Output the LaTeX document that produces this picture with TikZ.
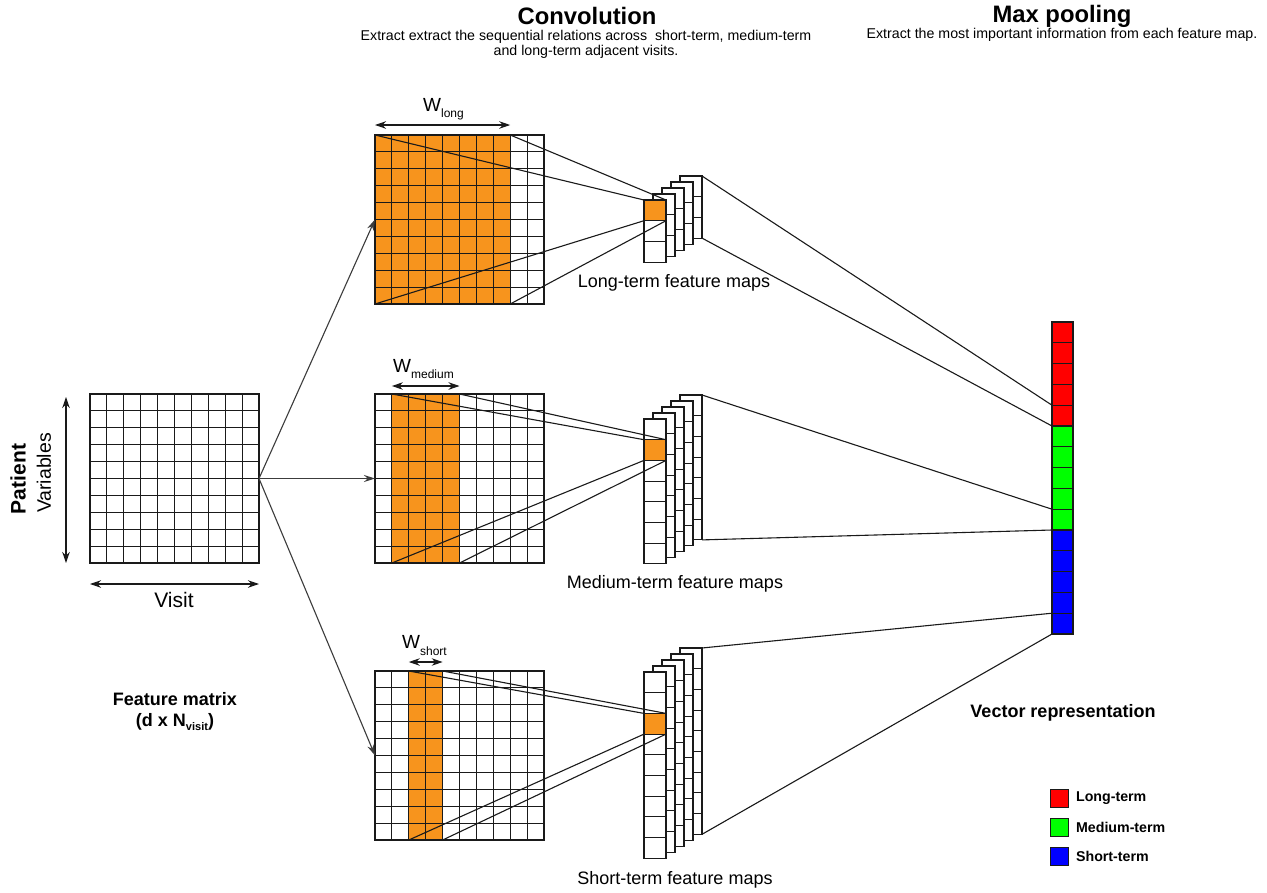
\documentclass[tikz,border=0pt]{standalone}
\usepackage{fontspec}
\setmainfont{Liberation Sans}
\usetikzlibrary{arrows.meta,calc}
\definecolor{conv}{HTML}{F7941D}
\definecolor{ln}{HTML}{1A1A1A}
\definecolor{vred}{HTML}{FF0000}
\definecolor{vgreen}{HTML}{00FF00}
\definecolor{vblue}{HTML}{0000FF}
\tikzset{
  gridl/.style={draw=ln, line width=1.1pt},
  mat/.style={draw=ln, line width=1.1pt, minimum width=169pt, minimum height=169pt, inner sep=0pt, outer sep=0pt, anchor=north west},
  win/.style={fill=conv, draw=none, inner sep=0pt, outer sep=0pt, minimum height=169pt, anchor=north west},
  fmap/.style={draw=ln, fill=white, line width=1.1pt, minimum width=22pt, inner sep=0pt, outer sep=0pt},
  vcell/.style={draw=ln, line width=1.1pt, minimum width=21pt, minimum height=20.8pt, inner sep=0pt, outer sep=0pt, anchor=north west},
  conn/.style={draw=ln, line width=1.1pt},
  arr/.style={draw=ln!85, line width=1.1pt, -{Stealth[length=11pt,width=7pt]}},
  dimarr/.style={draw=ln, line width=1.1pt, {Stealth[length=11pt,width=7.5pt]}-{Stealth[length=11pt,width=7.5pt]}},
  lbl/.style={font=\fontsize{18}{21}\selectfont, inner sep=0pt},
  blbl/.style={font=\bfseries\fontsize{18}{21}\selectfont, inner sep=0pt},
  ttl/.style={font=\bfseries\fontsize{23.8}{26}\selectfont, inner sep=0pt},
  sub/.style={font=\fontsize{14.2}{15}\selectfont, inner sep=0pt, align=center},
  leg/.style={draw=ln, line width=0.9pt, minimum width=18pt, minimum height=18pt, inner sep=0pt, anchor=north west},
  legt/.style={font=\bfseries\fontsize{14.2}{16}\selectfont, inner sep=0pt, anchor=west},
}
\newcommand\matgrid[2]{%
  \foreach \i in {1,...,9}{
    \draw[gridl] ({#1+\i*16.9},#2) -- ({#1+\i*16.9},{#2+169});
    \draw[gridl] (#1,{#2+\i*16.9}) -- ({#1+169},{#2+\i*16.9});
  }%
}
\newcommand\fmaps[4]{%
  \pgfmathtruncatemacro\nm{#3-1}%
  \pgfmathsetmacro\hh{#3*20.7}%
  \foreach \k in {4,3,2,1,0}{
    \pgfmathsetmacro\xl{644+9*\k}
    \pgfmathsetmacro\yt{#2-6*\k}
    \node[fmap, minimum height=\hh pt, anchor=north west] (#1map\k) at (\xl,\yt) {};
    \foreach \j in {1,...,\nm}{
      \draw[gridl] (\xl,{\yt+\j*20.7}) -- ({\xl+22},{\yt+\j*20.7});
    }
  }%
  \node[fmap, fill=conv, minimum height=20.7pt, anchor=north west] (#1cell) at (644,{#2+#4*20.7}) {};%
}
\begin{document}
\begin{tikzpicture}[x=1pt,y=-1pt]
\useasboundingbox[fill=white] (0,0) rectangle (1267,892);

% titles
\node[ttl] (tconv) at (587,16) {Convolution};
\node[sub] (sconv) at (586,44.5) {Extract extract the sequential relations across\ \ short-term, medium-term\\and long-term adjacent visits.};
\node[ttl] (tpool) at (1062,16) {Max pooling};
\node[sub] (spool) at (1062,35) {Extract the most important information from each feature map.};

% feature matrix
\matgrid{90}{394}
\node[mat] (F) at (90,394) {};
\draw[dimarr] ($(F.north west)+(-24,3)$) -- ($(F.south west)+(-24,0)$);
\draw[dimarr] ($(F.south west)+(0,21)$) -- ($(F.south east)+(0,21)$);
\node[font=\fontsize{21}{21}\selectfont, inner sep=0pt] (visit) at (174,600) {Visit};
\node[font=\bfseries\fontsize{21}{21}\selectfont, inner sep=0pt, rotate=90] (patient) at (18,479) {Patient};
\node[font=\fontsize{19.5}{20}\selectfont, inner sep=0pt, rotate=90] (vars) at (44,473) {Variables};
\node[blbl] (fmlab) at (175,699) {Feature matrix};
\node[blbl] (fmdim) at (175,722) {(d x N\raisebox{-4pt}{\fontsize{11}{11}\selectfont\bfseries visit})};

% long-term matrix
\node[win, minimum width=135.2pt] (Lwin) at (375,135) {};
\matgrid{375}{135}
\node[mat] (Lmat) at (375,135) {};
% medium-term matrix
\node[win, minimum width=67.6pt] (Mwin) at (391.9,394) {};
\matgrid{375}{394}
\node[mat] (Mmat) at (375,394) {};
% short-term matrix
\node[win, minimum width=33.8pt] (Swin) at (408.8,671) {};
\matgrid{375}{671}
\node[mat] (Smat) at (375,671) {};

% width arrows and labels
\draw[dimarr] ($(Lwin.north west)+(0,-10)$) -- ($(Lwin.north east)+(0,-10)$);
\draw[dimarr] ($(Mwin.north west)+(0,-8)$) -- ($(Mwin.north east)+(0,-8)$);
\draw[dimarr] ($(Swin.north west)+(0,-9)$) -- ($(Swin.north east)+(0,-9)$);
\node[anchor=base west, inner sep=0pt, font=\fontsize{19}{19}\selectfont] (wl) at (423,111) {W\raisebox{-6pt}{\fontsize{12}{12}\selectfont long}};
\node[anchor=base west, inner sep=0pt, font=\fontsize{19}{19}\selectfont] (wm) at (393,372) {W\raisebox{-6pt}{\fontsize{12}{12}\selectfont medium}};
\node[anchor=base west, inner sep=0pt, font=\fontsize{19}{19}\selectfont] (ws) at (402,648) {W\raisebox{-7pt}{\fontsize{12}{12}\selectfont short}};

% arrows from feature matrix
\draw[arr] (F.east) -- (Lmat.west);
\draw[arr] (F.east) -- (Mmat.west);
\draw[arr] (F.east) -- (Smat.west);

% vector representation
\foreach \i in {1,...,5}{\node[vcell, fill=vred] (v\i) at (1052,{322+(\i-1)*20.8}) {};}
\foreach \i in {6,...,10}{\node[vcell, fill=vgreen] (v\i) at (1052,{322+(\i-1)*20.8}) {};}
\foreach \i in {11,...,15}{\node[vcell, fill=vblue] (v\i) at (1052,{322+(\i-1)*20.8}) {};}

% feature maps
\fmaps{L}{200}{3}{0}
\fmaps{M}{419}{7}{1}
\fmaps{S}{672}{9}{2}

% convolution connectors
\foreach \p in {L,M,S}{
  \draw[conn] (\p win.north west) -- (\p cell.north west);
  \draw[conn] (\p win.north east) -- (\p cell.north east);
  \draw[conn] (\p win.south west) -- (\p cell.south west);
  \draw[conn] (\p win.south east) -- (\p cell.south east);
}

% pooling connectors
\draw[conn] (Lmap4.north east) -- (v4.south west);
\draw[conn] (Lmap4.south east) -- (v5.south west);
\draw[conn] (Mmap4.north east) -- (v9.south west);
\draw[conn] (Mmap4.south east) -- (v10.south west);
\draw[conn] (Smap4.north east) -- (v14.south west);
\draw[conn] (Smap4.south east) -- (v15.south west);

% labels
\node[lbl] (ll) at (674,283) {Long-term feature maps};
\node[lbl] (ml) at (675,584) {Medium-term feature maps};
\node[lbl] (sl) at (675,880) {Short-term feature maps};
\node[blbl] (vr) at (1063,713) {Vector representation};

% legend
\node[leg, fill=vred] (lg1) at (1050,789) {};
\node[leg, fill=vgreen] (lg2) at (1050,818) {};
\node[leg, fill=vblue] (lg3) at (1050,847) {};
\node[legt] (lt1) at ($(lg1.east)+(7,0)$) {Long-term};
\node[legt] (lt2) at ($(lg2.east)+(7,0)$) {Medium-term};
\node[legt] (lt3) at ($(lg3.east)+(7,0)$) {Short-term};
\end{tikzpicture}
\end{document}
